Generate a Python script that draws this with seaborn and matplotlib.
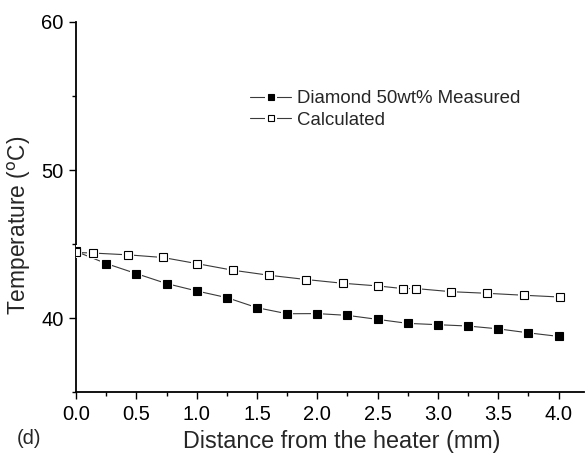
import matplotlib
matplotlib.use("Agg")
import matplotlib.pyplot as plt
import seaborn as sns
import pandas as pd
from matplotlib.ticker import MultipleLocator, FormatStrFormatter
from matplotlib.lines import Line2D

# Data
meas_x = [0.0, 0.25, 0.5, 0.75, 1.0, 1.25, 1.5, 1.75, 2.0, 2.25, 2.5, 2.75, 3.0, 3.25, 3.5, 3.75, 4.0]
meas_y = [44.5, 43.68, 43.0, 42.33, 41.83, 41.38, 40.70, 40.29, 40.30, 40.18, 39.91, 39.64, 39.55, 39.46, 39.27, 39.0, 38.76]
calc_x = [0.0, 0.14, 0.43, 0.72, 1.0, 1.3, 1.6, 1.91, 2.21, 2.5, 2.71, 2.82, 3.11, 3.41, 3.71, 4.01]
calc_y = [44.43, 44.39, 44.27, 44.09, 43.68, 43.23, 42.89, 42.60, 42.35, 42.17, 41.99, 41.99, 41.78, 41.67, 41.54, 41.42]
labels = ["Diamond 50wt% Measured", "Calculated"]

sns.set_style("ticks")
plt.rcParams['font.family'] = ['Liberation Sans', 'DejaVu Sans']

fig = plt.figure(figsize=(5.85, 4.58), dpi=100)
ax = fig.add_axes([0.130, 0.144, 0.868, 0.808])

df_m = pd.DataFrame({"x": meas_x, "y": meas_y})
df_c = pd.DataFrame({"x": calc_x, "y": calc_y})

LC = "#3a3a3a"
for df, fc in [(df_m, "black"), (df_c, "white")]:
    sns.lineplot(data=df, x="x", y="y", ax=ax, color=LC, lw=0.8, sort=False, zorder=2)
    # white halo to create Origin-style gaps around markers
    sns.lineplot(data=df, x="x", y="y", ax=ax, lw=0, sort=False, marker="s",
                 markersize=9, markerfacecolor="white", markeredgecolor="white",
                 markeredgewidth=0, zorder=3)
    sns.lineplot(data=df, x="x", y="y", ax=ax, lw=0, sort=False, marker="s",
                 markersize=5.5, markerfacecolor=fc, markeredgecolor="black",
                 markeredgewidth=0.8, zorder=4)

ax.set_xlim(0, 4.21)
ax.set_ylim(35, 60)
ax.xaxis.set_major_locator(MultipleLocator(0.5))
ax.xaxis.set_minor_locator(MultipleLocator(0.25))
ax.yaxis.set_major_locator(MultipleLocator(10))
ax.yaxis.set_minor_locator(MultipleLocator(5))
ax.xaxis.set_major_formatter(FormatStrFormatter('%.1f'))
ax.tick_params(axis='both', which='major', length=5, width=1, labelsize=14.5,
               color='black', labelcolor='black', pad=4)
ax.tick_params(axis='both', which='minor', length=3, width=1, color='black')
for s in ['top', 'right']:
    ax.spines[s].set_visible(False)
for s in ['left', 'bottom']:
    ax.spines[s].set_linewidth(1.3)
    ax.spines[s].set_color('black')

ax.set_xlabel("Distance from the heater (mm)", fontsize=16.8)
ax.set_ylabel("Temperature ($^{\\rm o}$C)", fontsize=16.4)
ax.xaxis.set_label_coords(0.523, -0.103)
ax.yaxis.set_label_coords(-0.085, 0.451)

handles = []
for fc in ["black", "white"]:
    ln = Line2D([], [], color=LC, lw=0.8)
    halo = Line2D([], [], lw=0, marker="s", markersize=9, markerfacecolor="white",
                  markeredgecolor="white", markeredgewidth=0)
    mk = Line2D([], [], lw=0, marker="s", markersize=4.5, markerfacecolor=fc,
                markeredgecolor="black", markeredgewidth=0.8)
    handles.append((ln, halo, mk))

leg = ax.legend(handles, labels, loc='upper left', bbox_to_anchor=(0.343, 0.816),
                frameon=False, fontsize=13.4, handlelength=2.2, handletextpad=0.3,
                labelspacing=0.26, borderpad=0, borderaxespad=0)

fig.text(0.028, 0.030, "(d)", fontsize=14.5)

fig.savefig("out.png", dpi=100)
